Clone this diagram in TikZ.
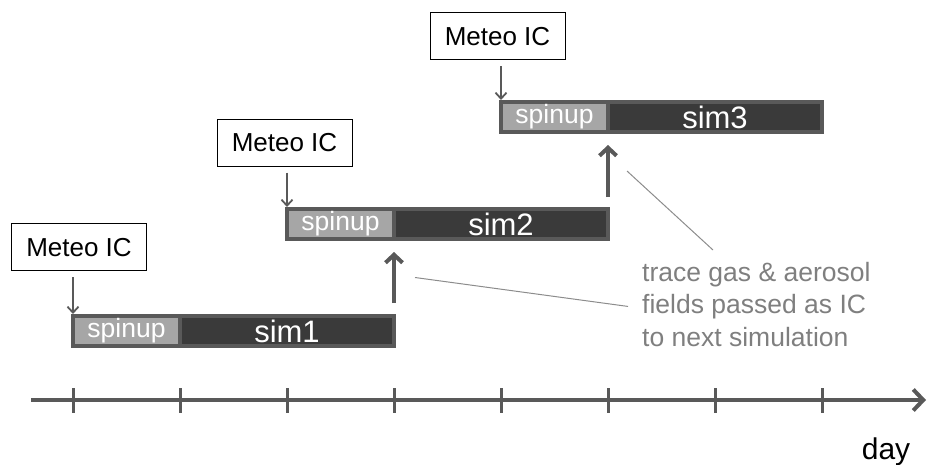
\documentclass[tikz,border=0pt]{standalone}
\usepackage{fontspec}
\setmainfont{Liberation Sans}
\usetikzlibrary{positioning,arrows.meta}
\definecolor{framegray}{HTML}{595959}
\definecolor{spingray}{HTML}{A6A6A6}
\definecolor{simgray}{HTML}{3A3A3A}
\definecolor{notegray}{HTML}{7F7F7F}
\definecolor{linegray}{HTML}{8C8C8C}

\begin{document}
\begin{tikzpicture}[x=1pt,y=-1pt,
                    bar/.style={draw=framegray, line width=4pt, outer sep=0pt, inner sep=0pt,
                                minimum height=30pt, text=white, text depth=0pt},
                    spin box/.style={bar, fill=spingray, minimum width=107pt,
                                     font=\fontsize{26.5}{30}\selectfont, text height=13.8pt},
                    sim box/.style={bar, fill=simgray, minimum width=214pt,
                                    font=\fontsize{31}{34}\selectfont, text height=22.2pt},
                    ic box/.style={draw=black, fill=white, line width=1pt, inner sep=0pt,
                                   minimum width=135pt, minimum height=47pt,
                                   font=\fontsize{26}{30}\selectfont, text height=18.6pt, text depth=0pt},
                    ic arrow/.style={draw=framegray, line width=1.8pt, shorten <=6pt, shorten >=2pt,
                                     -{Straight Barb[length=6pt,width=11pt]}},
                    pass arrow/.style={draw=framegray, line width=4pt,
                                       -{Straight Barb[length=8pt,width=17pt]}},
                    axis line/.style={draw=framegray, line width=4pt,
                                      -{Straight Barb[length=10pt,width=21pt]}},
                    tick/.style={draw=framegray, line width=3pt},
                    note line/.style={draw=linegray, line width=1pt}]
    \useasboundingbox (0,0) rectangle (931,464);

    % the three runs
    \node[spin box, anchor=west] (spin1) at (73,331) {spinup};
    \node[sim box, right=0pt of spin1] (sim1) {sim1};
    \node[spin box, anchor=west] (spin2) at (287,224) {spinup};
    \node[sim box, right=0pt of spin2] (sim2) {sim2};
    \node[spin box, anchor=west] (spin3) at (501,117) {spinup};
    \node[sim box, right=0pt of spin3] (sim3) {sim3};

    % meteo initial conditions
    \node[ic box] (ic1) at (79,247) {Meteo IC};
    \node[ic box] (ic2) at (284.5,142.5) {Meteo IC};
    \node[ic box] (ic3) at (497.5,36) {Meteo IC};
    \draw[ic arrow] (ic1.south -| spin1.west) -- (spin1.north west);
    \draw[ic arrow] (ic2.south -| spin2.west) -- (spin2.north west);
    \draw[ic arrow] (ic3.south -| spin3.west) -- (spin3.north west);

    % chemistry handed on
    \draw[pass arrow] ([yshift=13pt]sim1.north east) -- coordinate[midway] (p1) ([yshift=-13pt]spin2.south east);
    \draw[pass arrow] ([yshift=12pt]sim2.north east) -- coordinate[midway] (p2) ([yshift=-13pt]spin3.south east);

    \node[anchor=north west, align=left, inner sep=0pt, text=notegray,
          font=\fontsize{26.5}{32.5}\selectfont] (note) at (642,262)
          {trace gas \& aerosol\\fields passed as IC\\to next simulation};
    \draw[note line] ([xshift=-14pt,yshift=-2pt]note.west) -- ([xshift=21pt]p1);
    \draw[note line] ([shift={(71pt,12pt)}]note.north west) -- ([xshift=19pt]p2);

    % time axis
    \coordinate (tstart) at (31,400);
    \coordinate (tend) at (926,400);
    \draw[axis line] (tstart) -- (tend);
    \foreach \d in {0,...,7}
        \draw[tick] ({73+107*\d},388) -- ({73+107*\d},413);
    \node[anchor=base, inner sep=0pt, font=\fontsize{30}{30}\selectfont] (day) at (886,459) {day};
\end{tikzpicture}
\end{document}
